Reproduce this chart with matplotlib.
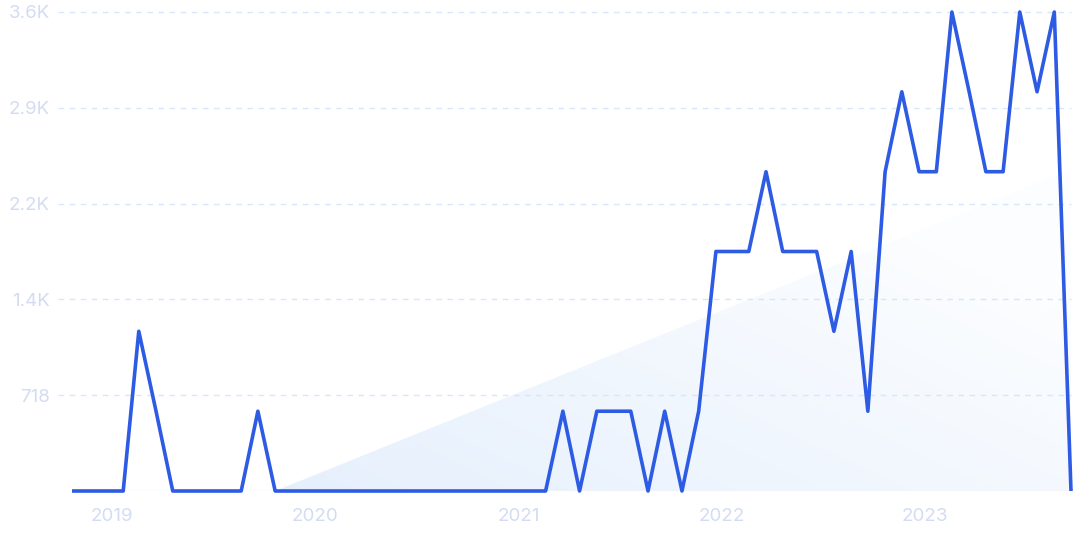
import numpy as np
import pandas as pd
import matplotlib
matplotlib.use("Agg")
import matplotlib.pyplot as plt
import matplotlib.dates as mdates
import matplotlib.transforms as mtransforms
from matplotlib.patches import Polygon

# monthly values, Nov 2018 .. Oct 2023
months = pd.date_range("2018-11-01", periods=60, freq="MS")
values = [0, 0, 0, 0, 1197, 598, 0, 0, 0, 0,
          0, 598, 0, 0, 0, 0, 0, 0, 0, 0,
          0, 0, 0, 0, 0, 0, 0, 0, 0, 598,
          0, 598, 598, 598, 0, 598, 0, 598, 1795, 1795,
          1795, 2393, 1795, 1795, 1795, 1197, 1795, 598, 2393, 2992,
          2393, 2393, 3590, 2992, 2393, 2393, 3590, 2992, 3590, 0]

# trend line (shaded region underneath)
trend_dates = [pd.Timestamp("2019-11-01"), pd.Timestamp("2023-10-01")]
trend_values = [0, 2410]

yticks = [718, 1436, 2154, 2872, 3590]
ytick_labels = ["718", "1.4K", "2.2K", "2.9K", "3.6K"]
year_ticks = [pd.Timestamp(f"{y}-01-01") for y in range(2019, 2024)]
year_labels = [str(y) for y in range(2019, 2024)]

line_color = "#2d5be3"
label_color = "#d3dcf2"
grid_color = "#d8e6fa"

plt.rcParams["font.family"] = ["Inter", "DejaVu Sans"]

fig = plt.figure(figsize=(10.75, 5.37), dpi=100)
ax = fig.add_axes([72 / 1075, 1 - 491 / 537, (1071 - 72) / 1075, (491 - 12) / 537])

xd = mdates.date2num(months)
ax.set_xlim(xd[0], xd[-1])
ax.set_ylim(0, 3590)

# gradient fill under the trend line
tx = mdates.date2num(trend_dates)
poly = Polygon([[tx[0], 0], [tx[1], trend_values[1]], [tx[1], 0]],
               closed=True, facecolor="none", edgecolor="none", transform=ax.transData)
ax.add_patch(poly)
gx, gy = np.meshgrid(np.linspace(0, 1, 200), np.linspace(0, 1, 200))
t = np.clip(0.65 * gx + 0.55 * (1 - gy), 0, 1)
c0 = np.array([0.90, 0.94, 0.99])
c1 = np.array([0.99, 0.995, 1.0])
img = c0[None, None, :] * (1 - t[..., None]) + c1[None, None, :] * t[..., None]
im = ax.imshow(img, extent=[tx[0], tx[1], 0, trend_values[1]], origin="upper",
               aspect="auto", zorder=1, interpolation="bilinear")
im.set_clip_path(poly)

# grid
for yv in yticks:
    ax.axhline(yv, xmin=-0.014, xmax=1, color=grid_color, lw=1.0,
               dashes=(4, 4), clip_on=False, zorder=2)
ax.axhline(0, color="#eef2f8", lw=1.0, zorder=2)

ax.plot(xd, values, color=line_color, lw=2.6, solid_joinstyle="round",
        solid_capstyle="butt", clip_on=False, zorder=3)

for s in ax.spines.values():
    s.set_visible(False)
ax.set_yticks(yticks)
ax.set_yticklabels(ytick_labels)
ax.set_xticks(mdates.date2num(year_ticks))
ax.set_xticklabels(year_labels)
ax.tick_params(axis="both", length=0, labelsize=13.5, labelcolor=label_color)
ax.tick_params(axis="y", pad=16)
ax.tick_params(axis="x", pad=12)
offset = mtransforms.ScaledTranslation(6 / 100, 0, fig.dpi_scale_trans)
for lab in ax.get_xticklabels():
    lab.set_transform(lab.get_transform() + offset)
ax.set_facecolor("white")

fig.savefig("out.png", dpi=100, facecolor="white")
